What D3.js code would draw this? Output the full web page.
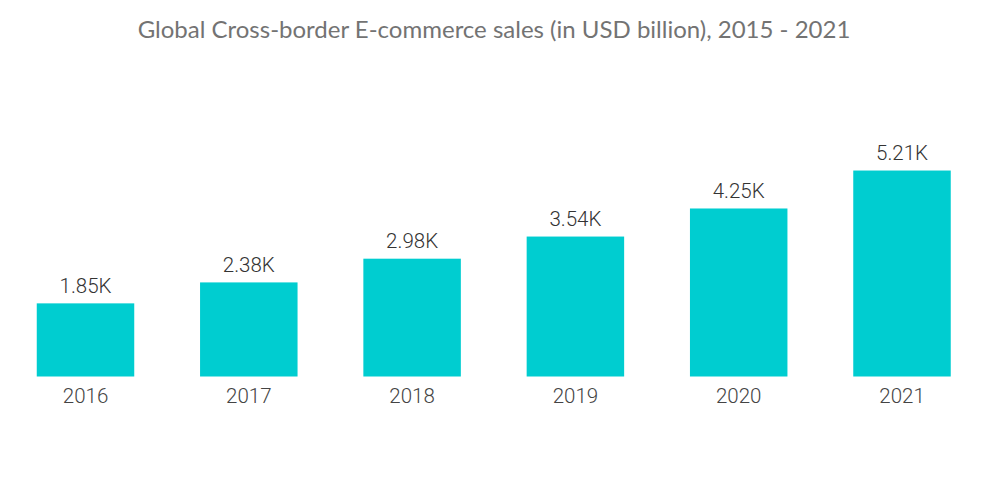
<!DOCTYPE html>
<html>
<head>
<meta charset="utf-8">
<script src="https://cdn.jsdelivr.net/npm/d3@7"></script>
<style>
  body { margin: 0; background: #fff; }
</style>
</head>
<body>
<div id="chart"></div>
<script>
const years = ["2016", "2017", "2018", "2019", "2020", "2021"];
const sales = [1850, 2380, 2980, 3540, 4250, 5210];

const width = 1000;
const height = 504;

const svg = d3.select("#chart")
    .append("svg")
    .attr("width", width)
    .attr("height", height);

// title
svg.append("text")
    .attr("x", 494)
    .attr("y", 38)
    .attr("text-anchor", "middle")
    .attr("font-family", "Lato, 'Open Sans', sans-serif")
    .attr("font-size", 24)
    .attr("fill", "#737373")
    .text("Global Cross-border E-commerce sales (in USD billion), 2015 - 2021");

const x = d3.scaleBand()
    .domain(years)
    .range([3.85, 983.65])
    .paddingInner(0.403)
    .paddingOuter(0.2015);

const y = d3.scaleLinear()
    .domain([0, 6000])
    .range([376.5, 139.3]);

const fmt = (d) => d3.format(".3s")(d).replace("k", "K");

const data = years.map((yr, i) => ({ year: yr, value: sales[i] }));

// bars
svg.append("g")
    .selectAll("rect")
    .data(data)
    .enter()
    .append("rect")
    .attr("x", (d) => x(d.year))
    .attr("y", (d) => y(d.value))
    .attr("width", x.bandwidth())
    .attr("height", (d) => y(0) - y(d.value))
    .attr("fill", "#00cdd0");

// value labels
svg.append("g")
    .selectAll("text")
    .data(data)
    .enter()
    .append("text")
    .attr("x", (d) => x(d.year) + x.bandwidth() / 2)
    .attr("y", (d) => y(d.value) - 10.5)
    .attr("text-anchor", "middle")
    .attr("font-family", "Roboto, sans-serif")
    .attr("font-weight", 300)
    .attr("font-size", 20.5)
    .attr("fill", "#333")
    .text((d) => fmt(d.value));

// x axis
const xAxis = svg.append("g")
    .attr("transform", `translate(0, ${y(0)})`)
    .call(d3.axisBottom(x).tickSize(0).tickPadding(12));

xAxis.select(".domain").remove();
xAxis.selectAll("text")
    .attr("font-family", "Roboto, sans-serif")
    .attr("font-weight", 300)
    .attr("font-size", 20.5)
    .attr("fill", "#444");
</script>
</body>
</html>
